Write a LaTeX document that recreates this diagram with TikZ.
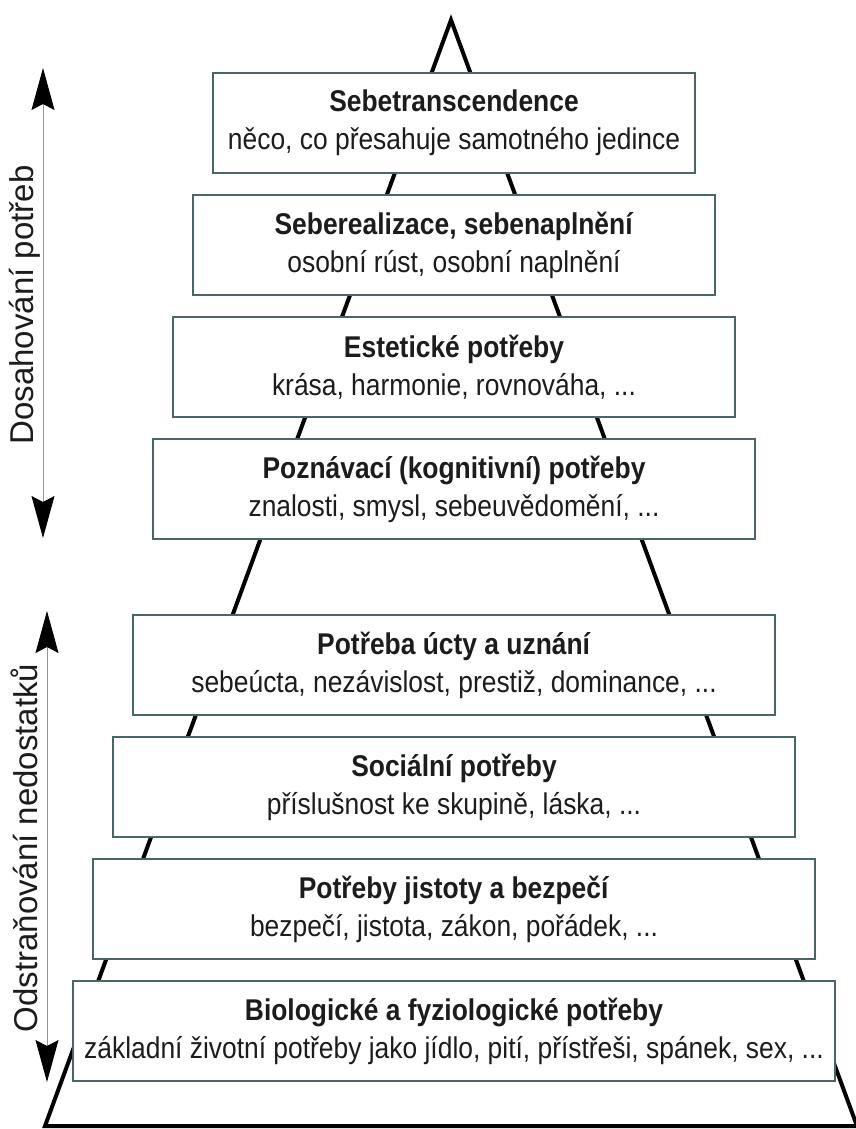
\documentclass[tikz,border=0pt]{standalone}
\usepackage{fontspec}
\usepackage{tikz}
\usetikzlibrary{positioning,arrows.meta}
\setmainfont{Liberation Sans}
\newfontfamily\narrowsans[FakeStretch=0.88]{Liberation Sans}
\definecolor{boxline}{HTML}{4A6666}
\definecolor{axisline}{HTML}{7F9F9F}
\definecolor{inktext}{HTML}{1C1C1C}
\tikzset{
    need-box/.style = {draw=boxline, fill=white, line width=0.8pt, rectangle, minimum height=50pt, inner sep=0pt, align=center, text=inktext, font=\narrowsans\fontsize{15}{19}\selectfont},
    pyramid-edge/.style = {black, line width=2pt},
    axis-arrow/.style = {axisline, line width=0.5pt, arrows={Stealth[length=21pt, width=11.5pt, inset=3pt, color=black]-Stealth[length=21pt, width=11.5pt, inset=3pt, color=black]}},
    axis-label/.style = {rotate=90, text=inktext, inner sep=0pt, font=\fontsize{16.5}{20}\selectfont},
}

\begin{document}
\begin{tikzpicture}[x=0.5pt, y=-0.5pt]
\useasboundingbox (0,0) rectangle (856,1129);
% pyramid outline
\coordinate (apex) at (451,20);
\coordinate (base-left) at (45,1126);
\coordinate (base-right) at (857,1126);
\draw[pyramid-edge] (base-left) -- (apex) -- (base-right) -- cycle;
% levels
\node[need-box, minimum width=241pt] (transcend) at (454,123) {\textbf{Sebetranscendence}\\něco, co přesahuje samotného jedince};
\node[need-box, minimum width=261pt, below=10.2pt of transcend] (selfreal) {\textbf{Seberealizace, sebenaplnění}\\osobní rúst, osobní naplnění};
\node[need-box, minimum width=281pt, below=10.2pt of selfreal] (aesthetic) {\textbf{Estetické potřeby}\\krása, harmonie, rovnováha, ...};
\node[need-box, minimum width=301pt, below=10.2pt of aesthetic] (cognitive) {\textbf{Poznávací (kognitivní) potřeby}\\znalosti, smysl, sebeuvědomění, ...};
\node[need-box, minimum width=321pt, below=37.2pt of cognitive] (esteem) {\textbf{Potřeba úcty a uznání}\\sebeúcta, nezávislost, prestiž, dominance, ...};
\node[need-box, minimum width=341pt, below=10.2pt of esteem] (social) {\textbf{Sociální potřeby}\\příslušnost ke skupině, láska, ...};
\node[need-box, minimum width=361pt, below=10.2pt of social] (safety) {\textbf{Potřeby jistoty a bezpečí}\\bezpečí, jistota, zákon, pořádek, ...};
\node[need-box, minimum width=381pt, below=10.2pt of safety] (body) {\textbf{Biologické a fyziologické potřeby}\\základní životní potřeby jako jídlo, pití, přístřeši, spánek, sex, ...};
% side arrows
\coordinate (reach-top) at (43,68);
\coordinate (reach-bottom) at (43,538);
\draw[axis-arrow] (reach-bottom) -- (reach-top);
\node[axis-label] (reach) at (25,305) {Dosahování potřeb};
\coordinate (lack-top) at (47,611);
\coordinate (lack-bottom) at (47,1082);
\draw[axis-arrow] (lack-bottom) -- (lack-top);
\node[axis-label] (lack) at (24,848) {Odstraňování nedostatků};
\end{tikzpicture}
\end{document}
